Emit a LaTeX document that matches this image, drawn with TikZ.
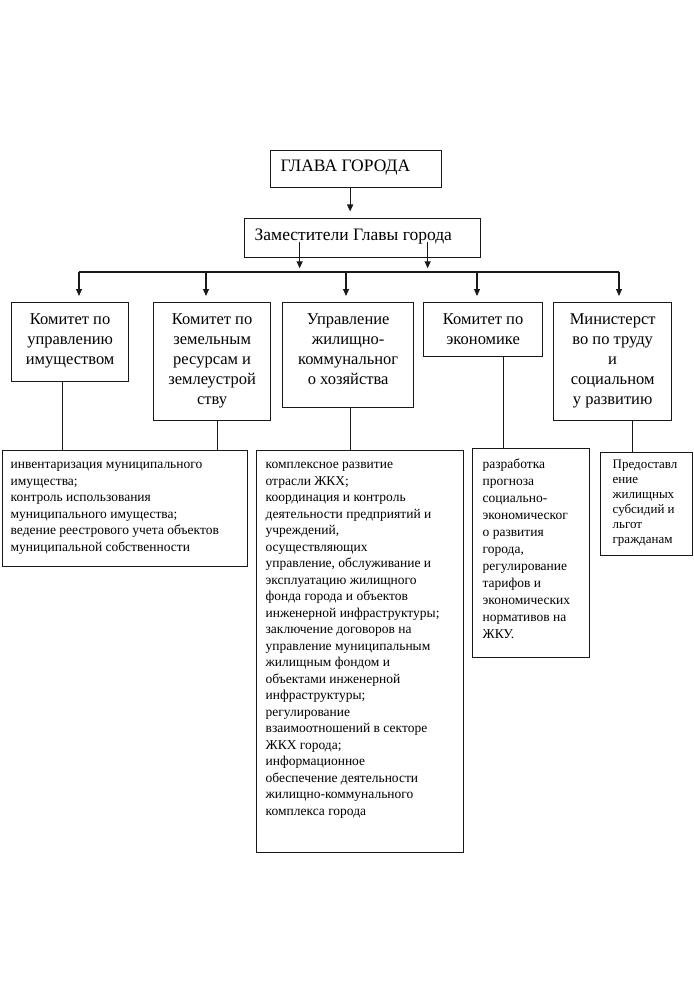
\documentclass[tikz,border=0pt]{standalone}
\usepackage{fontspec}
\setmainfont{Liberation Serif}
\usetikzlibrary{arrows.meta}

\newcommand{\ctext}[3]{\parbox[c][#2][t]{#1}{\centering\strut#3}}
\newcommand{\ltext}[3]{\parbox[c][#2][t]{#1}{\raggedright\strut#3}}

\tikzstyle{block} = [rectangle, draw=black!90, line width=1.3pt, anchor=north west, inner xsep=0pt, inner ysep=0pt]
\tikzstyle{head} = [block, font=\fontsize{17.5}{20}\selectfont]
\tikzstyle{unit} = [block, font=\fontsize{16.5}{20}\selectfont]
\tikzstyle{task} = [block, font=\fontsize{13.5}{16.5}\selectfont]
\tikzstyle{line} = [draw=black!90, line width=1.2pt]
\tikzstyle{arrow} = [line, ->, >={Stealth[length=7pt, width=6pt, inset=0pt]}]

\begin{document}
\begin{tikzpicture}[x=1pt, y=-1pt]
    \useasboundingbox (0,0) rectangle (693,1000);
    \node (0) [head, inner xsep=10pt, inner ysep=6.5pt] at (270,150) {\ltext{151pt}{24pt}{ГЛАВА ГОРОДА}};
    \node (1) [head, inner xsep=10pt, inner ysep=8pt] at (244,218) {\ltext{216pt}{23pt}{Заместители Главы города}};
    \node (a) [unit, inner xsep=4pt, inner ysep=8pt] at (11,302) {\ctext{109pt}{63pt}{Комитет по\\управлению\\имуществом}};
    \node (b) [unit, inner xsep=4pt, inner ysep=8pt] at (153,302) {\ctext{109pt}{102pt}{Комитет по\\земельным\\ресурсам и\\землеустрой\\ству}};
    \node (c) [unit, inner xsep=4pt, inner ysep=8pt] at (282,302) {\ctext{123pt}{89pt}{Управление\\жилищно-\\коммунальног\\о хозяйства}};
    \node (d) [unit, inner xsep=4pt, inner ysep=8pt] at (423,302) {\ctext{111pt}{38pt}{Комитет по\\экономике}};
    \node (e) [unit, inner xsep=4pt, inner ysep=8pt] at (553,302) {\ctext{110pt}{102pt}{Министерст\\во по труду\\и\\социальном\\у развитию}};
    \node (t1) [task, inner xsep=8pt, inner ysep=6.5pt] at (2,450) {\ltext{229pt}{103pt}{инвентаризация муниципального\\имущества;\\контроль использования\\муниципального имущества;\\ведение реестрового учета объектов\\муниципальной собственности}};
    \node (t2) [task, inner xsep=9pt, inner ysep=6.5pt] at (256,450) {\ltext{189pt}{389pt}{комплексное развитие\\отрасли ЖКХ;\\координация и контроль\\деятельности предприятий и\\учреждений,\\осуществляющих\\управление, обслуживание и\\эксплуатацию жилищного\\фонда города и объектов\\инженерной инфраструктуры;\\заключение договоров на\\управление муниципальным\\жилищным фондом и\\объектами инженерной\\инфраструктуры;\\регулирование\\взаимоотношений в секторе\\ЖКХ города;\\информационное\\обеспечение деятельности\\жилищно-коммунального\\комплекса города}};
    \node (t3) [task, font=\fontsize{13.5}{17}\selectfont, inner xsep=10pt, inner ysep=7.5pt] at (472,448) {\ltext{97pt}{194pt}{разработка\\прогноза\\социально-\\экономическог\\о развития\\города,\\регулирование\\тарифов и\\экономических\\нормативов на\\ЖКУ.}};
    \node (t4) [task, font=\fontsize{13}{15}\selectfont, inner xsep=12pt, inner ysep=5.5pt] at (600,452) {\ltext{68pt}{92pt}{Предоставл\\ение\\жилищных\\субсидий и\\льгот\\гражданам}};
    \coordinate (b1) at (79,272);
    \coordinate (b2) at (206,272);
    \coordinate (b3) at (346,272);
    \coordinate (b4) at (477,272);
    \coordinate (b5) at (619,272);
    \draw [arrow, shorten >=6.5pt] ([xshift=-6pt]0.south) -- ([xshift=-6pt]0.south |- 1.north);
    \draw [arrow] ([xshift=-63pt, yshift=-4pt]1.center) -- ([xshift=-63pt, yshift=-10pt]1.south);
    \draw [arrow] ([xshift=65pt, yshift=-4pt]1.center) -- ([xshift=65pt, yshift=-10pt]1.south);
    \draw [line] (b1) -- (b5);
    \draw [arrow, shorten >=6pt] (b1) -- (b1 |- a.north);
    \draw [arrow, shorten >=6pt] (b2) -- (b2 |- b.north);
    \draw [arrow, shorten >=6pt] (b3) -- (b3 |- c.north);
    \draw [arrow, shorten >=6pt] (b4) -- (b4 |- d.north);
    \draw [arrow, shorten >=6pt] (b5) -- (b5 |- e.north);
    \draw [line] ([xshift=-7.5pt]a.south) -- ([xshift=-7.5pt]a.south |- t1.north);
    \draw [line] ([xshift=5.5pt]b.south) -- ([xshift=5.5pt]b.south |- t1.north);
    \draw [line] ([xshift=2.5pt]c.south) -- ([xshift=2.5pt]c.south |- t2.north);
    \draw [line] ([xshift=20.5pt]d.south) -- ([xshift=20.5pt]d.south |- t3.north);
    \draw [line] ([xshift=20pt]e.south) -- ([xshift=20pt]e.south |- t4.north);
\end{tikzpicture}
\end{document}
